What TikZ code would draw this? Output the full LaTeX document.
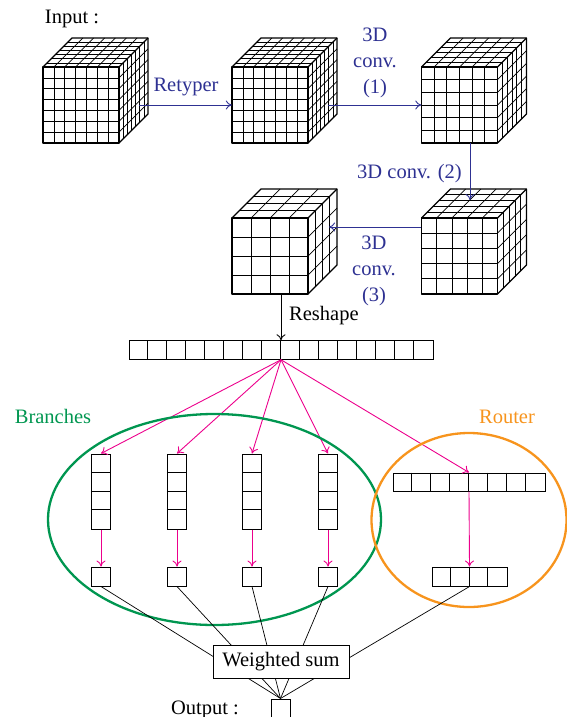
\documentclass[tikz,border=0pt]{standalone}
\usepackage{fontspec}
\setmainfont{Liberation Serif}
\usetikzlibrary{arrows.meta,shapes.geometric,calc}
\definecolor{convblue}{RGB}{46,49,146}
\definecolor{brgreen}{RGB}{0,150,80}
\definecolor{rtorange}{RGB}{247,148,29}
\definecolor{lpink}{RGB}{236,0,140}

% cube drawn from the top-left corner of its front face: #1 x, #2 y, #3 cells per edge
\newcommand{\gridcube}[3]{%
  \pgfmathsetmacro\gcs{76/#3}%
  \pgfmathsetmacro\gcd{29/#3}%
  \pgfmathtruncatemacro\gcm{#3-1}%
  \foreach \i in {1,...,\gcm}{%
    \draw[gridline] ({#1+\i*\gcs},{#2}) -- ++(0,76);
    \draw[gridline] ({#1},{#2+\i*\gcs}) -- ++(76,0);
    \draw[gridline] ({#1+\i*\gcs},{#2}) -- ++(29,-29);
    \draw[gridline] ({#1+\i*\gcd},{#2-\i*\gcd}) -- ++(76,0);
    \draw[gridline] ({#1+76+\i*\gcd},{#2-\i*\gcd}) -- ++(0,76);
    \draw[gridline] ({#1+76},{#2+\i*\gcs}) -- ++(29,-29);
  }%
  \draw[cubeline] ({#1},{#2}) rectangle ++(76,76);
  \draw[cubeline] ({#1},{#2}) -- ++(29,-29) -- ++(76,0) -- ++(0,76) -- ++(-29,29);
  \draw[cubeline] ({#1+76},{#2}) -- ++(29,-29);
}

\begin{document}
\begin{tikzpicture}[x=1pt,y=-1pt,
  gridline/.style={line width=0.7pt},
  cubeline/.style={line width=1.3pt, line join=round},
  cubeface/.style={rectangle, minimum size=76pt, inner sep=0pt},
  txt/.style={font=\fontsize{20.5}{26}\selectfont, inner sep=0pt},
  bluetxt/.style={txt, text=convblue, align=center},
  bluearrow/.style={draw=convblue, line width=0.9pt, -{To[length=6pt,width=9pt]}},
  pinkarrow/.style={draw=lpink, line width=0.9pt, -{To[length=6pt,width=9pt]}},
  blackarrow/.style={draw=black, line width=0.9pt, -{To[length=6pt,width=9pt]}},
  cellbox/.style={draw, line width=1pt, inner sep=0pt},
  linkline/.style={draw=black, line width=0.7pt},
  groupell/.style={ellipse, line width=2.3pt, inner sep=0pt}
]
\useasboundingbox (0,0) rectangle (567,717);

% ---------- cubes ----------
\node[cubeface] (c1) at (81,105) {};
\node[cubeface] (c2) at (270,105) {};
\node[cubeface] (c3) at (459.5,105) {};
\node[cubeface] (c4) at (459.5,256) {};
\node[cubeface] (c5) at (270,256) {};
\gridcube{43}{67}{7}
\gridcube{232}{67}{7}
\gridcube{421.5}{67}{6}
\gridcube{421.5}{218}{5}
\gridcube{232}{218}{4}

\coordinate (c1in) at (139,105);
\coordinate (c2in) at (328,105);
\coordinate (c4top) at (470,200);
\coordinate (c5in) at (329,227);

\node[txt, anchor=base] (inlbl) at (72,23.5) {Input :};

\draw[bluearrow] (c1in) -- (c1in -| c2.west);
\node[bluetxt, anchor=base] (l1) at (186,91.5) {Retyper};
\draw[bluearrow] (c2in) -- (c2in -| c3.west);
\node[bluetxt] (l2) at (375,63.3) {3D\\conv.\\(1)};
\draw[bluearrow] (c3.south -| c4top) -- (c4top);
\node[bluetxt, anchor=base east] (l3) at (462,178) {3D conv. (2)};
\draw[bluearrow] (c4.west |- c5in) -- (c5in);
\node[bluetxt] (l4) at (374,271.3) {3D\\conv.\\(3)};

% ---------- flattened vector ----------
\node[cellbox, minimum width=304pt, minimum height=18.5pt] (vec) at (281,350) {};
\foreach \i in {1,...,15}
  \draw[gridline] ([xshift=\i*19pt]vec.north west) -- ([xshift=\i*19pt]vec.south west);
\draw[blackarrow] (c5.south -| vec.north) -- (vec.north);
\node[txt, anchor=base west] (l5) at (289,320.5) {Reshape};

% ---------- branches ----------
\foreach \n/\x in {1/101,2/177,3/252,4/328}{
  \node[cellbox, minimum width=19.5pt, minimum height=75pt] (b\n) at (\x,491.5) {};
  \foreach \j in {1,2,3}
    \draw[gridline] ([yshift=-\j*18.75pt]b\n.north west) -- ([yshift=-\j*18.75pt]b\n.north east);
  \node[cellbox, minimum width=19.5pt, minimum height=19pt] (s\n) at (\x,576.5) {};
  \draw[pinkarrow] (vec.south) -- (b\n.north);
  \draw[pinkarrow] (b\n.south) -- (s\n.north);
}

% ---------- router ----------
\node[cellbox, minimum width=152pt, minimum height=18pt] (rv) at (469,482) {};
\foreach \i in {1,...,7}
  \draw[gridline] ([xshift=\i*19pt]rv.north west) -- ([xshift=\i*19pt]rv.south west);
\node[cellbox, minimum width=75pt, minimum height=19pt] (ro) at (469.5,576.5) {};
\foreach \i in {1,2,3}
  \draw[gridline] ([xshift=\i*18.75pt]ro.north west) -- ([xshift=\i*18.75pt]ro.south west);
\draw[pinkarrow] (vec.south) -- (rv.north);
\draw[pinkarrow] (rv.south) -- (ro.north);

% ---------- groups ----------
\node[groupell, draw=brgreen, minimum width=333pt, minimum height=211pt] (brE) at (214.5,519.5) {};
\node[groupell, draw=rtorange, minimum width=195pt, minimum height=174pt] (rtE) at (469,520) {};
\node[txt, text=brgreen, anchor=base] (l6) at (53,423) {Branches};
\node[txt, text=rtorange, anchor=base] (l7) at (507,423) {Router};

% ---------- output ----------
\node[cellbox, minimum size=19pt] (out) at (280.5,708.5) {};
\foreach \n in {1,2,3,4}
  \draw[linkline] (s\n.south) -- (out.north);
\draw[linkline] (ro.south) -- (out.north);
\node[txt, draw, fill=white, line width=1pt, minimum width=136pt, minimum height=33pt] (ws) at (281,661.5) {Weighted sum};
\node[txt, anchor=base] (l8) at (205,714) {Output :};
\end{tikzpicture}
\end{document}
